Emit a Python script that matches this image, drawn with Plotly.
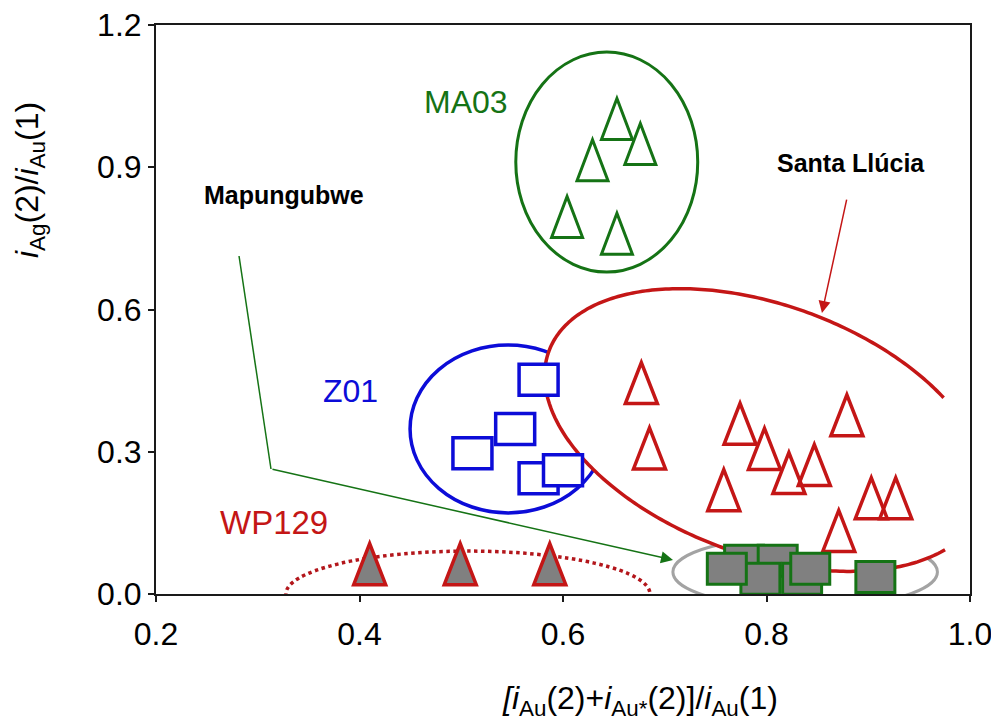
import math
import plotly.graph_objects as go

# ---------------- data ----------------
# MA03 (open green triangles)
ma03_x = [0.653, 0.676, 0.629, 0.604, 0.653]
ma03_y = [1.002, 0.949, 0.915, 0.795, 0.760]

# Z01 (open blue squares)
z01_x = [0.576, 0.553, 0.511, 0.576, 0.600]
z01_y = [0.452, 0.348, 0.297, 0.244, 0.261]

# Santa Llúcia (open red triangles)
santa_x = [0.677, 0.685, 0.774, 0.798, 0.822, 0.847, 0.879, 0.758, 0.903, 0.927, 0.871]
santa_y = [0.445, 0.307, 0.359, 0.306, 0.255, 0.272, 0.377, 0.219, 0.202, 0.202, 0.133]

# WP129 (filled triangles)
wp129_x = [0.410, 0.499, 0.587]
wp129_y = [0.063, 0.063, 0.063]

# Mapungubwe (filled squares)
mapun_x = [0.778, 0.811, 0.835, 0.794, 0.761, 0.843, 0.907]
mapun_y = [0.070, 0.070, 0.032, 0.032, 0.053, 0.053, 0.036]

x_ticks = [0.2, 0.4, 0.6, 0.8, 1.0]
x_labels = ["0.2", "0.4", "0.6", "0.8", "1.0"]
y_ticks = [0.0, 0.3, 0.6, 0.9, 1.2]
y_labels = ["0.0", "0.3", "0.6", "0.9", "1.2"]

# ---------------- styling ----------------
GREEN = "#157315"
BLUE = "#0c0cd8"
RED = "#c41616"
DARKRED = "#b3161b"
GRAY_LINE = "#a3a3a3"
GRAY_FILL = "#808080"
AXIS = "#1a1a1a"
FONT = "Liberation Sans, Arial, sans-serif"

W, H = 991, 725
M_L, M_R, M_T, M_B = 156, 21, 25, 131
X_RANGE = [0.2, 1.0]
Y_RANGE = [0.0, 1.2]
KX = (W - M_L - M_R) / (X_RANGE[1] - X_RANGE[0])   # px per x unit
KY = (H - M_T - M_B) / (Y_RANGE[1] - Y_RANGE[0])   # px per y unit

shapes = []


def marker_shape(x, y, path, color, fill, width):
    return dict(type="path", xref="x", yref="y",
                xsizemode="pixel", ysizemode="pixel",
                xanchor=x, yanchor=y, path=path,
                line=dict(color=color, width=width), fillcolor=fill,
                layer="above")


def tri_path(w, h):
    return f"M{-w/2},{-h/2} L{w/2},{-h/2} L0,{h/2} Z"


def rect_path(w, h):
    return f"M{-w/2},{-h/2} L{w/2},{-h/2} L{w/2},{h/2} L{-w/2},{h/2} Z"


def ellipse_shape(cx, cy, rx, ry, color, width, dash="solid", fill="rgba(0,0,0,0)"):
    return dict(type="circle", xref="x", yref="y",
                x0=cx - rx, x1=cx + rx, y0=cy - ry, y1=cy + ry,
                line=dict(color=color, width=width, dash=dash),
                fillcolor=fill, layer="above")


# Mapungubwe envelope (grey)
shapes.append(ellipse_shape(0.838, 0.0464, 0.130, 0.0759, GRAY_LINE, 3))
# Z01 envelope (blue)
shapes.append(ellipse_shape(0.546, 0.348, 0.0963, 0.177, BLUE, 3.5))

# Santa Llúcia envelope: tilted ellipse, white interior, outline cut at the right
s_cx, s_cy = 0.7985, 0.3458
s_a, s_b, s_tilt = 230.0, 125.0, math.radians(20)
s_cut = 0.9755
pts = []
for i in range(361):
    t = math.radians(i)
    dx = s_a * math.cos(t) * math.cos(s_tilt) - s_b * math.sin(t) * math.sin(s_tilt)
    dy = -(s_a * math.cos(t) * math.sin(s_tilt) + s_b * math.sin(t) * math.cos(s_tilt))
    pts.append((s_cx + dx / KX, s_cy + dy / KY))

fill_path = "M" + " L".join(f"{x:.5f},{y:.5f}" for x, y in pts) + " Z"
shapes.append(dict(type="path", xref="x", yref="y", path=fill_path,
                   fillcolor="white", line=dict(width=0), layer="above"))

# outline segments left of the cut
segs, cur = [], []
for x, y in pts:
    if x <= s_cut:
        cur.append((x, y))
    else:
        if len(cur) > 1:
            segs.append(cur)
        cur = []
if len(cur) > 1:
    segs.append(cur)
# join wrap-around piece (start and end of the parameter range)
if len(segs) > 1 and pts[0][0] <= s_cut and pts[-1][0] <= s_cut:
    segs[0] = segs[-1] + segs[0]
    segs.pop()
for seg in segs:
    p = "M" + " L".join(f"{x:.5f},{y:.5f}" for x, y in seg)
    shapes.append(dict(type="path", xref="x", yref="y", path=p,
                       fillcolor="rgba(0,0,0,0)",
                       line=dict(color=RED, width=3.5), layer="above"))

# WP129 envelope (dotted)
shapes.append(ellipse_shape(0.5066, 0.0, 0.1789, 0.0905, DARKRED, 3.5, dash="dot"))
# MA03 envelope
shapes.append(ellipse_shape(0.643, 0.911, 0.0894, 0.232, GREEN, 3))

# Mapungubwe pointer, first leg
shapes.append(dict(type="line", xref="x", yref="y",
                   x0=0.2816, y0=0.7128, x1=0.313, y1=0.2636,
                   line=dict(color=GREEN, width=1.5), layer="above"))

# markers
for x, y in zip(ma03_x, ma03_y):
    shapes.append(marker_shape(x, y, tri_path(31, 41), GREEN, "rgba(0,0,0,0)", 3))
for x, y in zip(santa_x, santa_y):
    shapes.append(marker_shape(x, y, tri_path(32, 41), RED, "rgba(0,0,0,0)", 3.5))
for x, y in zip(z01_x, z01_y):
    shapes.append(marker_shape(x, y, rect_path(39, 31), BLUE, "white", 3.5))
for x, y in zip(wp129_x, wp129_y):
    shapes.append(marker_shape(x, y, tri_path(32, 41), RED, GRAY_FILL, 3.5))
for x, y in zip(mapun_x, mapun_y):
    shapes.append(marker_shape(x, y, rect_path(39, 31), GREEN, GRAY_FILL, 3))

fig = go.Figure()

annotations = [
    dict(x=0.5047, y=1.0376, text="MA03", font=dict(size=32, color=GREEN, family=FONT)),
    dict(x=0.3916, y=0.4281, text="Z01", font=dict(size=32, color=BLUE, family=FONT)),
    dict(x=0.316, y=0.1518, text="WP129", font=dict(size=33, color=RED, family=FONT)),
    dict(x=0.3258, y=0.8415, text="<b>Mapungubwe</b>", font=dict(size=25, color="black", family=FONT)),
    dict(x=0.883, y=0.909, text="<b>Santa Llúcia</b>", font=dict(size=25, color="black", family=FONT)),
]
for a in annotations:
    a.update(xref="x", yref="y", showarrow=False, xanchor="center", yanchor="middle")

# arrows
annotations.append(dict(x=0.8545, y=0.5926, ax=0.8791, ay=0.835, xref="x", yref="y",
                        axref="x", ayref="y", text="", showarrow=True, arrowhead=2,
                        arrowsize=1.6, arrowwidth=1.5, arrowcolor=RED,
                        font=dict(size=12, family=FONT)))
annotations.append(dict(x=0.7081, y=0.0717, ax=0.313, ay=0.2636, xref="x", yref="y",
                        axref="x", ayref="y", text="", showarrow=True, arrowhead=2,
                        arrowsize=1.6, arrowwidth=1.5, arrowcolor=GREEN,
                        font=dict(size=12, family=FONT)))

# axis titles
annotations.append(dict(xref="paper", yref="paper", x=-0.1548, y=0.7276,
                        text="<i>i</i><sub>Ag</sub>(2)/<i>i</i><sub>Au</sub>(1)",
                        textangle=-90, showarrow=False, xanchor="center", yanchor="middle",
                        font=dict(size=32, color="black", family=FONT)))
annotations.append(dict(xref="paper", yref="paper", x=0.5946, y=-0.1863,
                        text="<i>[i</i><sub>Au</sub>(2)+<i>i</i><sub>Au*</sub>(2)]/<i>i</i><sub>Au</sub>(1)",
                        showarrow=False, xanchor="center", yanchor="middle",
                        font=dict(size=32, color="black", family=FONT)))

axis_common = dict(showline=True, mirror=True, linecolor=AXIS, linewidth=2,
                   ticks="outside", ticklen=6, tickwidth=2, tickcolor=AXIS,
                   showgrid=False, zeroline=False, ticklabeloverflow="allow",
                   automargin=False,
                   tickfont=dict(size=32, color="black", family=FONT))

fig.update_layout(
    width=W, height=H, autosize=False,
    margin=dict(l=M_L, r=M_R, t=M_T, b=M_B, pad=0, autoexpand=False),
    paper_bgcolor="white", plot_bgcolor="white",
    showlegend=False,
    xaxis=dict(range=X_RANGE, tickvals=x_ticks, ticktext=x_labels,
               ticklabelstandoff=5, **axis_common),
    yaxis=dict(range=Y_RANGE, tickvals=y_ticks, ticktext=y_labels, **axis_common),
    shapes=shapes,
    annotations=annotations,
)

fig.write_html("out.html")
